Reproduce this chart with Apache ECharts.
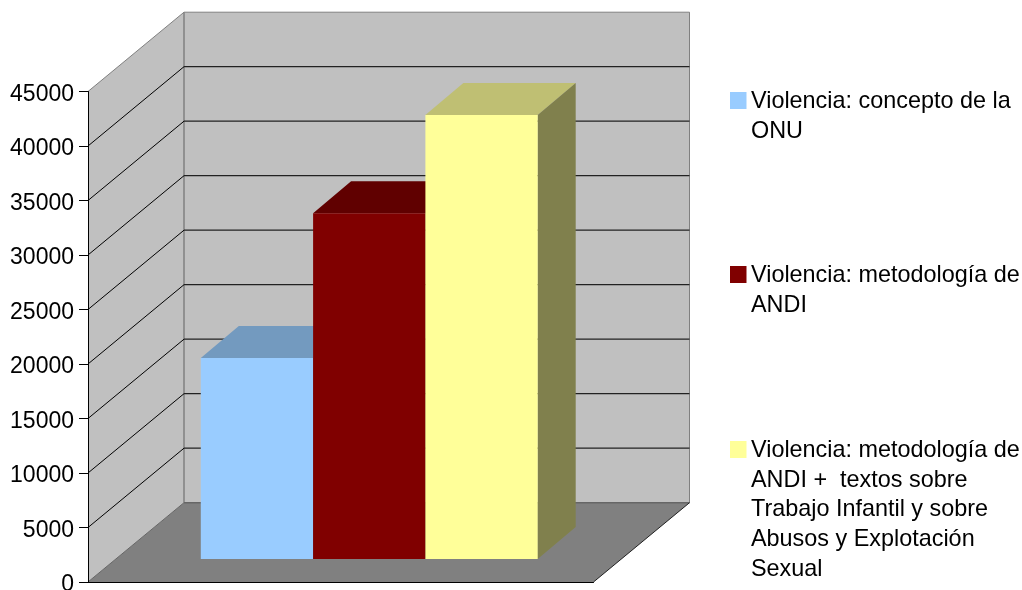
<!DOCTYPE html>
<html>
<head>
<meta charset="utf-8">
<style>
  html, body { margin: 0; padding: 0; background: #fff; }
  #chart { width: 1022px; height: 590px; }
</style>
<script src="https://cdn.jsdelivr.net/npm/echarts@6/dist/echarts.min.js"></script>
</head>
<body>
<div id="chart"></div>
<script>
const categories = [''];
const seriesNames = [
  'Violencia: concepto de la ONU',
  'Violencia: metodología de ANDI',
  'Violencia: metodología de ANDI +  textos sobre Trabajo Infantil y sobre Abusos y Explotación Sexual'
];
const seriesValues = [18440, 31720, 40730];
const yTicks = [5000, 10000, 15000, 20000, 25000, 30000, 35000, 40000];
const legendLines = [
  ['Violencia: concepto de la', 'ONU'],
  ['Violencia: metodología de', 'ANDI'],
  ['Violencia: metodología de', 'ANDI +  textos sobre', 'Trabajo Infantil y sobre', 'Abusos y Explotación', 'Sexual']
];

const FONT = '"Liberation Sans", Arial, sans-serif';
const frontColors = ['#99ccff', '#800000', '#ffff99'];
const topColors = ['#739abf', '#600000', '#bfbf73'];
const sideColors = ['#4d6680', '#400000', '#80804d'];

// box depth of the walls, and where the bars stand inside it
const WALL_DX = 96, WALL_DY = 79.3;
const BAR_SHIFT_X = 28.5, BAR_SHIFT_Y = 23;
const BAR_DX = 38, BAR_DY = 32;
const BAR_W = 112.3;

function poly(points, fill) {
  return { type: 'polygon', shape: { points: points }, style: { fill: fill, stroke: null } };
}
function line(x1, y1, x2, y2, color, width) {
  return {
    type: 'line',
    shape: { x1: x1, y1: y1, x2: x2, y2: y2 },
    style: { stroke: color, lineWidth: width }
  };
}

function renderWalls(params) {
  const g = params.coordSys;
  const l = g.x, r = g.x + g.width, t = g.y, b = g.y + g.height;
  const dx = WALL_DX, dy = WALL_DY;
  return {
    type: 'group',
    children: [
      poly([[l, b], [l + dx, b - dy], [l + dx, t - dy], [l, t]], '#c0c0c0'),
      poly([[l + dx, b - dy], [r + dx, b - dy], [r + dx, t - dy], [l + dx, t - dy]], '#c0c0c0'),
      poly([[l, b], [r, b], [r + dx, b - dy], [l + dx, b - dy]], '#808080'),
      line(l, t, l + dx, t - dy, '#808080', 1),
      line(l + dx, t - dy, r + dx, t - dy, '#808080', 1),
      line(r + dx, t - dy, r + dx, b - dy, '#808080', 1),
      line(l + dx, t - dy, l + dx, b - dy, '#808080', 1.5),
      line(l + dx, b - dy, r + dx, b - dy, '#666666', 1.5),
      line(l, b, l + dx, b - dy, '#666666', 1),
      line(r, b, r + dx, b - dy, '#222222', 1)
    ]
  };
}

function renderGridLine(params, api) {
  const g = params.coordSys;
  const y = api.coord([0, api.value(1)])[1];
  return {
    type: 'group',
    children: [
      line(g.x, y, g.x + WALL_DX, y - WALL_DY, '#000000', 1),
      line(g.x + WALL_DX, y - WALL_DY, g.x + g.width + WALL_DX, y - WALL_DY, '#222222', 1.3)
    ]
  };
}

function barRenderer(index) {
  return function (params, api) {
    const top = api.coord([api.value(0), api.value(1)]);
    const base = api.coord([api.value(0), 0]);
    const x0 = top[0] + BAR_SHIFT_X + (index - seriesValues.length / 2) * BAR_W;
    const x1 = x0 + BAR_W;
    const yt = top[1] - BAR_SHIFT_Y;
    const yb = base[1] - BAR_SHIFT_Y;
    return {
      type: 'group',
      children: [
        poly([[x0, yt], [x1, yt], [x1 + BAR_DX, yt - BAR_DY], [x0 + BAR_DX, yt - BAR_DY]], topColors[index]),
        poly([[x1, yb], [x1 + BAR_DX, yb - BAR_DY], [x1 + BAR_DX, yt - BAR_DY], [x1, yt]], sideColors[index]),
        poly([[x0, yb], [x1, yb], [x1, yt], [x0, yt]], frontColors[index])
      ]
    };
  };
}

const legendTops = [92, 266, 441];
const legendGraphics = [];
legendLines.forEach(function (lines, i) {
  legendGraphics.push({
    type: 'rect', left: 730, top: legendTops[i],
    shape: { width: 16.5, height: 17 }, style: { fill: frontColors[i] }
  });
  legendGraphics.push({
    type: 'text', left: 751, top: legendTops[i] - 5,
    style: { text: lines.join('\n'), font: '23.4px ' + FONT, lineHeight: 29.6, fill: '#000000' }
  });
});

const series = [
  { type: 'custom', name: 'walls', renderItem: renderWalls, data: [[0, 0]], silent: true, z: 1 },
  { type: 'custom', name: 'grid', renderItem: renderGridLine, data: yTicks.map(v => [0, v]), silent: true, z: 2 }
];
seriesValues.forEach(function (v, i) {
  series.push({
    type: 'custom',
    name: seriesNames[i],
    renderItem: barRenderer(i),
    data: [[0, v]],
    encode: { x: 0, y: 1 },
    z: 3 + i
  });
});

const myChart = echarts.init(document.getElementById('chart'), null, { renderer: 'canvas' });
myChart.setOption({
  animation: false,
  backgroundColor: '#ffffff',
  grid: { left: 88, top: 91.5, width: 505.5, height: 490.5, containLabel: false, outerBoundsMode: 'none' },
  xAxis: {
    type: 'category',
    data: categories,
    axisLine: { show: true, onZero: false, lineStyle: { color: '#000000', width: 1 } },
    axisTick: { show: false },
    axisLabel: { show: false },
    splitLine: { show: false },
    z: 10
  },
  yAxis: {
    type: 'value',
    min: 0,
    max: 45000,
    interval: 5000,
    axisLine: { show: true, lineStyle: { color: '#000000', width: 1 } },
    axisTick: { show: true, length: 9, lineStyle: { color: '#000000', width: 1 } },
    axisLabel: {
      margin: 14,
      formatter: function (v) { return '{a|' + v + '}'; },
      rich: { a: { color: '#000000', fontFamily: FONT, fontSize: 23, padding: [6, 0, 0, 0] } }
    },
    splitLine: { show: false },
    z: 10
  },
  series: series,
  graphic: legendGraphics
});
</script>
</body>
</html>
